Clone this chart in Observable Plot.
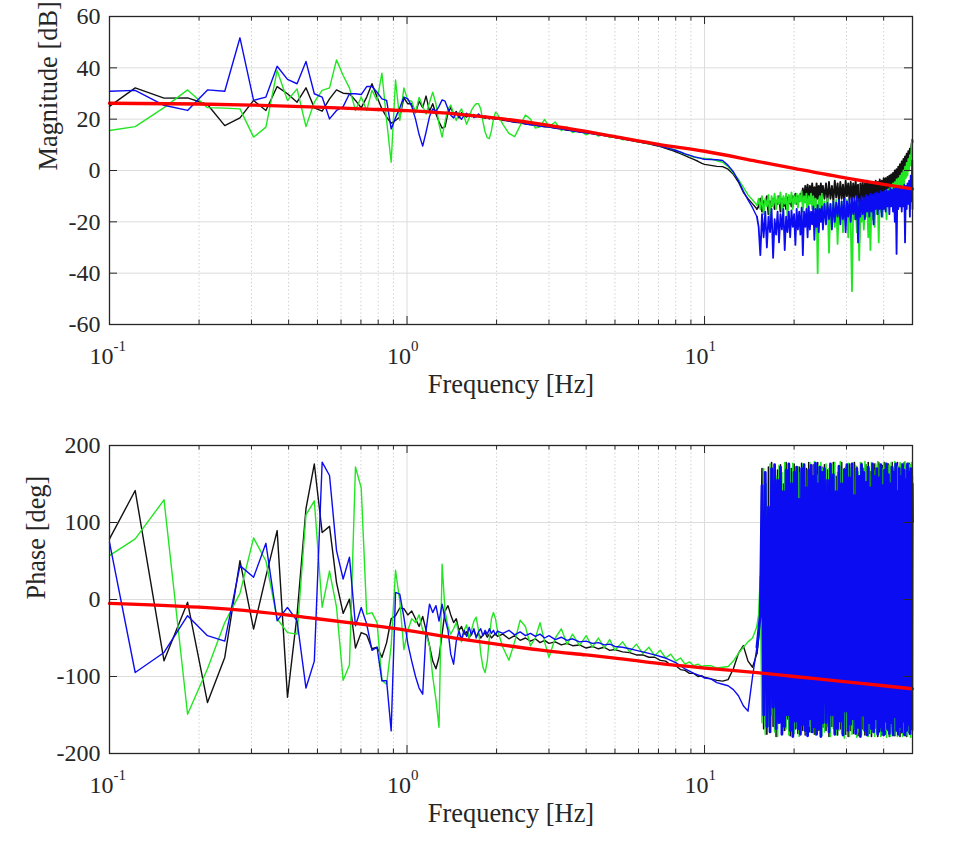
<!DOCTYPE html>
<html><head><meta charset="utf-8">
<script src="https://cdn.jsdelivr.net/npm/d3@7"></script>
<script src="https://cdn.jsdelivr.net/npm/@observablehq/plot@0.6"></script>
<style>
html,body{margin:0;padding:0;background:#fff;}
#chart svg{display:block;}
</style></head>
<body><div id="chart"></div>
<script>
// ---------- axis / tick data ----------
const xDomain = [0.1, 50];
const decades = [0.1, 1, 10];
const decadeExp = ["-1", "0", "1"];
const minorX = [0.2,0.3,0.4,0.5,0.6,0.7,0.8,0.9,2,3,4,5,6,7,8,9,20,30,40,50];
const magTicks = [-60,-40,-20,0,20,40,60];
const phaseTicks = [-200,-100,0,100,200];
const xLabel = "Frequency [Hz]";
const magLabel = "Magnitude [dB]";
const phaseLabel = "Phase [deg]";

// ---------- frequency grids (Hz) ----------
const fLow = [0.1,0.122,0.1525,0.183,0.2135,0.244,0.2745,0.305,0.3355,0.366,0.3965,0.427,0.4575,0.488,0.5185,0.549,0.5795,0.61,0.6405,0.671,0.7015,0.732,0.7625,0.793,0.8235,0.854,0.8845,0.915,0.9455,0.976,1.0065];
const fMid = [1.037,1.068,1.098,1.129,1.159,1.19,1.22,1.251,1.281,1.312,1.342,1.373,1.403,1.434,1.464,1.495,1.525,1.556,1.586,1.617,1.647,1.678,1.708,1.739,1.769,1.8,1.83,1.861,1.891,1.922,1.952,1.983,2.013,
 2.1,2.2,2.3,2.4,2.5,2.6,2.7,2.8,2.9,3.0,3.15,3.3,3.45,3.6,3.8,4.0,4.2,4.4,4.6,4.8,5.0,5.3,5.6,5.9,6.2,6.5,6.8,7.1,7.4,7.7,8.0,8.3,8.6,8.9,9.2,9.5,9.8,10.0];
const fHigh = [10.5,11,11.5,12,12.5,13,13.5,14,14.5,15,
 15.2,15.4,15.6,15.8,16,16.2,16.4,16.6,16.8,17,
 17.2,17.4,17.6,17.8,18,18.2,18.4,18.6,18.8,19,
 19.2,19.4,19.6,19.8,20,20.2,20.4,20.6,20.8,21,
 21.2,21.4,21.6,21.8,22,22.2,22.4,22.6,22.8,23,
 23.2,23.4,23.6,23.8,24,24.2,24.4,24.6,24.8,25,
 25.3,25.6,25.9,26.2,26.5,26.8,27.1,27.4,27.7,28,
 28.3,28.6,28.9,29.2,29.5,29.8,30.1,30.4,30.7,31,
 31.3,31.6,31.9,32.2,32.5,32.8,33.1,33.4,33.7,34,
 34.3,34.6,34.9,35.2,35.5,35.8,36.1,36.4,36.7,37,
 37.3,37.6,37.9,38.2,38.5,38.8,39.1,39.4,39.7,40,
 40.3,40.6,40.9,41.2,41.5,41.8,42.1,42.4,42.7,43,
 43.3,43.6,43.9,44.2,44.5,44.8,45.1,45.4,45.7,46,
 46.3,46.6,46.9,47.2,47.5,47.8,48.1,48.4,48.7,49,
 49.3,49.6,49.9,50];

// ---------- magnitude [dB] ----------
const magBlackLow = [25.0,32.2,28.2,28.3,25.7,17.5,20.5,27.3,23.4,32.7,29.9,26.6,32.2,24.4,23.1,27.9,31.4,30.1,29.9,27.3,24.4,28.6,33.8,28.6,24.0,20.8,18.4,19.5,20.8,28.3,26.0];
const magBlueLow = [30.9,31.2,25.4,23.4,31.4,30.9,51.7,27.3,28.6,40.6,35.5,33.8,42.5,29.9,28.6,20.1,23.4,24.9,29.9,29.9,29.6,32.7,32.7,30.5,27.9,27.3,16.2,20.5,24.4,28.6,27.9];
const magGreenLow = [15.6,17.1,24.5,31.4,24.5,24.3,24.0,13.0,16.9,39.0,27.3,31.8,17.1,26.6,31.2,32.2,43.1,37.0,32.2,23.4,28.6,23.4,31.2,27.3,37.9,19.5,3.2,35.3,19.5,32.2,27.3];

const magBlackMid = [26.0,22.5,27.0,24.5,29.0,23.0,26.0,22.0,19.0,16.5,17.0,22.5,24.5,22.0,23.0,20.5,
 22.5,21.5,20.8,22.0,21.0,21.8,20.9,21.5,20.7,21.1,20.3,20.9,20.1,20.5,19.9,20.4,
 20.0,19.6,19.3,18.8,18.6,18.1,17.9,17.5,17.4,17.0,17.0,16.4,16.2,15.7,15.6,15.0,14.8,14.3,14.1,13.6,13.4,12.8,12.4,11.8,11.4,10.8,10.4,9.8,9.3,8.6,8.0,7.3,6.6,5.8,5.0,4.3,3.6,2.8,2.4];
const magBlueMid = [25.0,20.0,14.0,9.5,15.0,21.0,24.0,23.0,25.0,27.5,27.0,24.0,21.5,20.5,22.5,21.0,
 20.0,21.5,22.3,21.0,21.8,20.6,21.0,22.0,21.2,20.5,21.3,20.9,20.2,20.8,20.4,19.9,
 20.1,19.8,19.3,18.9,18.8,18.2,17.8,17.7,17.2,17.1,16.9,16.5,16.1,15.9,15.4,15.1,14.6,14.4,13.9,13.6,13.3,12.9,12.3,12.0,11.4,11.0,10.5,10.0,9.5,8.9,8.4,7.8,7.2,6.5,6.0,5.4,5.0,4.6,4.4];
const magGreenMid = [27.0,22.5,28.5,25.0,22.0,26.5,30.5,26.0,18.0,13.0,19.0,24.0,25.5,22.0,19.5,22.5,
 24.0,21.0,18.0,20.5,23.5,25.0,26.0,26.0,24.0,19.0,15.0,12.8,12.4,15.5,20.0,22.7,
 22.0,18.0,14.5,13.2,17.5,21.6,20.0,16.5,17.0,19.9,17.1,18.9,15.5,17.0,14.8,15.7,13.9,15.0,13.4,14.3,12.8,13.5,12.0,12.3,11.2,11.3,10.2,10.3,9.4,9.2,8.4,8.0,7.0,6.4,5.8,5.2,4.9,4.8,4.7];

const magBlackHigh = [2.0,1.6,1.5,0.5,-1.5,-4.5,-8.5,-11.0,-13.0,-15.0,
 -14,-11,-16,-12,-13,-10,-17,-12,-14,-11,-15,-12,-13,-10,-16,-11,-14,-12,-15,-10.5,
 -13,-11,-14,-10,-12.5,-9,-13,-10,-12,-9,-11.5,-7,-12,-6,-11,-5.5,-12,-6,-10.5,-5,
 -11,-6.5,-12,-5,-11,-6,-12.5,-5,-10,-6,
 -11,-5,-12,-4.5,-11,-6,-12,-4,-10.5,-5,-12,-4.5,-11,-5.5,-12.5,-4,-10,-5,-11.5,-4.5,
 -12,-5,-11,-4,-10.5,-5.5,-28,-5,-11,-4.5,-12,-5,-10.5,-4,-11,-5,-12,-4.5,-10,-5,
 -11,-4,-10,-4.5,-9.5,-3.5,-9,-4,-8.5,-3,-8,-3,-7.5,-2.5,-7,-2,-6.5,-1.5,-6,-1,
 -5,0,-4.5,0.5,-3.5,1.5,-3,2.5,-2,3.5,-1,4.5,0,5.5,1,6.5,2.5,7.5,4,8.5,
 6,10,12,11];
const magGreenHigh = [4.5,3.8,3.2,1.5,-1.0,-3.5,-6.5,-9.5,-11.5,-13.5,
 -11,-15,-10,-17,-11,-14,-9.5,-19,-10,-14,-9,-15,-10,-13,-8.5,-16,-10,-13,-9,-18,
 -9.5,-12.5,-8.5,-15,-10,-13,-9,-14.5,-9.5,-12,-8,-16,-10,-12.5,-9,-20,-10,-13,-9,-15,
 -10,-15,-11,-14,-40,-12,-10,-17,-9,-22,
 -12,-18,-11,-32,-13,-19,-12,-22,-11.5,-28.6,-13,-19,-12,-24,-12.5,-18,-11.5,-26,-12,-20,
 -47,-14,-19,-12,-24,-12.5,-35,-13,-20,-12,-23,-13,-18,-11.5,-26,-12,-31,-13,-19,-11,
 -22,-12,-17,-10,-28,-11,-16,-9.5,-18,-9,-15,-8,-19,-7.5,-14,-7,-13,-6,-12,-5,
 -11,-4.5,-10,-3.5,-9,-3,-8,-2,-7,-1,-6,0,-5,1.5,-3,3,-2,4.5,0,6,
 2,8.5,12,11];
const magBlueHigh = [4.3,4.2,3.9,2.0,-0.5,-4.0,-8.0,-11.5,-14.5,-18.0,
 -22,-33,-17,-26,-16,-30,-18,-24,-15,-34,-19,-25,-16,-28,-17,-23,-15,-31,-18,-24,
 -16,-26,-15.5,-22,-17,-29,-15,-23,-16,-25,-14.5,-33,-16,-22,-15,-26,-14,-23,-16,-21,
 -14,-27,-15,-22,-13.5,-24,-15,-20,-14,-23,
 -13,-21,-12.5,-19,-13,-23,-12,-20,-12.5,-18,-11.5,-21,-12,-19,-11,-24,-12,-18,-11,-20,
 -10.5,-17,-11,-19,-10,-28,-11,-18,-10,-17,-10.5,-19,-9.5,-16,-10,-18,-9,-16,-9.5,-21,
 -9,-15,-8.5,-17,-9,-15,-8,-18,-8.5,-15,-8,-16,-7.5,-14,-8,-17,-7,-14,-7.5,-16,
 -7,-20,-7,-32.5,-6.5,-15,-7,-14,-6,-16,-6.5,-14,-5.5,-28,-6,-15,-5,-13,-4,-18,
 -2,-12,3.9,-15];

// ---------- phase [deg] ----------
const phBlackLow = [78.7,141.5,-79.6,-3.7,-133.8,-75.3,50.5,-38.4,30,89.5,-127,-20,118,176,87,95,22,-18,0.5,-63,-43,-46,-64,-62,-75,-56,-25,-21,-11,-12,-20];
const phBlueLow = [74.3,-94.8,-68.8,-21,-47,-54,44,28.8,73,-27.6,-10.3,-27.6,-115,-80,178.3,161,63.5,26.6,55,-34,-10.3,-32,-66,-62,-105.6,-105.6,-170.6,9.3,7.1,-23,-57.6];
const phGreenLow = [57,78.7,129.4,-149,-90,-30,8,80,50,-25,-43,-45,110,128,-10,37,-10,-105,-85,172,145,-19,-17,-30,-105,-110,-60,38,-2,-65,-40];

const phBlackMid = [-15,-25,-35,-22,-40,-60,-80,-90,-75,-45,-15,-8,-20,-30,-25,-40,
 -35,-45,-42,-50,-44,-40,-48,-44,-50,-46,-43,-49,-45,-50,-47,-44,
 -48,-45,-51,-47,-53,-50,-54,-51,-56,-53,-57,-55,-59,-57,-60,-59,-63,-61,-64,-62,-66,-65,-68,-69,-72,-72,-75,-75,-79,-80,-85,-86,-91,-92,-96,-96,-100,-99,-101];
const phBlueMid = [-80,-100,-115,-123,-40,-6,-17,-8,-28,-6,-25,-40,-71,-84,-54,-41,
 -52,-40,-48,-36,-46,-38,-50,-42,-38,-47,-40,-45,-38,-44,-40,-46,
 -41,-44,-40,-46,-42,-47,-44,-48,-45,-50,-47,-52,-49,-53,-51,-55,-54,-57,-56,-59,-58,-61,-62,-64,-66,-68,-70,-72,-74,-76,-79,-82,-86,-90,-93,-96,-98,-100,-102];
const phGreenMid = [-25,-30,-20,-40,-45,-60,-100,-130,-166,46,-15,-35,-45,-38,-30,-45,
 -55,-40,-33,-50,-40,-28,-23,-40,-70,-88,-95,-80,-50,-25,-17,-25,
 -40,-62,-79,-55,-27,-35,-60,-50,-30,-55,-75,-50,-38,-58,-45,-60,-47,-62,-50,-63,-52,-66,-55,-68,-58,-70,-62,-73,-66,-76,-71,-80,-76,-84,-81,-86,-84,-87,-86];

const phBlackHigh = [-103,-105,-106,-104,-90,-70,-60,-80,-88,-70,
 -50,-20,170,-168,155,-175,172,-150,178,-165,160,-178,168,-160,175,-172,150,-170,178,-155,
 165,-177,170,-165,176,-168,158,-174,172,-162,177,-170,165,-176,170,-158,178,-172,162,-168,
 175,-175,168,-165,178,-170,160,-177,172,-166,
 175,-170,168,-178,172,-165,178,-172,160,-176,174,-168,178,-160,170,-175,165,-178,176,-170,
 168,-174,178,-165,172,-177,160,-172,177,-168,170,-176,175,-162,178,-174,166,-178,172,-170,
 176,-167,170,-178,178,-172,165,-176,174,-168,178,-175,169,-170,176,-178,172,-165,178,-174,
 168,-177,175,-170,178,-168,172,-178,176,-173,170,-176,178,-169,174,-178,171,-172,177,-175,
 175,-170,170,-170];
const phGreenHigh = [-86,-89,-88,-87,-80,-70,-62,-55,-50,-35,
 -20,30,-160,170,-175,150,-165,176,-150,168,-172,160,-178,174,-155,165,-170,178,-168,150,
 -176,170,-162,177,-174,158,-166,172,-178,165,-158,176,-170,160,-175,168,-165,178,-172,155,
 -168,179,-176,162,-170,174,-160,178,-177,170,
 -172,176,-165,170,-178,175,-168,178,-176,165,-170,179,-174,168,-180,172,-166,177,-178,170,
 -175,178,-168,174,-179,166,-172,178,-176,172,-170,179,-168,175,-178,170,-174,178,-170,168,
 -178,176,-172,179,-166,174,-178,170,-175,178,-170,172,-179,176,-168,174,-178,178,-172,170,
 -176,179,-170,175,-178,172,-174,178,-169,176,-178,174,-172,179,-176,170,-178,177,-171,175,
 -179,178,-175,160];
const phBlueHigh = [-103,-108,-110,-112,-117,-125,-138,-145,-100,-62,
 -40,-20,148,-150,165,-165,120,-172,170,-140,175,-168,155,-160,172,-175,140,-165,168,-150,
 176,-170,150,-178,165,-158,172,-168,130,-175,170,-162,175,-170,145,-177,168,-155,174,-172,
 160,-165,177,-175,150,-168,172,-178,165,-160,
 170,-160,155,-172,176,-150,162,-175,140,-168,173,-158,150,-176,168,-145,175,-170,158,-162,
 176,-155,135,-174,170,-166,160,-178,175,-150,165,-170,152,-176,172,-160,145,-168,176,-172,
 160,-155,170,-175,158,-165,175,-170,148,-176,168,-158,176,-168,162,-174,150,-160,172,-176,
 165,-152,176,-170,140,-175,170,-165,160,-172,175,-158,168,-176,155,-170,176,-162,165,-174,
 170,-168,150,100];

// ---------- fitted model (red) ----------
const redF = [0.1,0.2,0.3,0.5,0.7,1.0,1.5,2.0,3.0,4.0,5.0,7.0,10.0,15.0,20.0,30.0,40.0,50.0];
const redMag = [26.2,25.9,25.5,24.7,24.0,23.3,21.9,20.4,17.6,15.2,13.2,10.2,7.5,3.6,0.8,-3.0,-5.4,-7.2];
const redPhase = [-5,-10,-15,-25,-32,-40,-51,-58,-67,-72,-76,-83,-89,-95,-100,-107,-112,-116];

// ---------- build rows ----------
const fAll = fLow.concat(fMid, fHigh);
function rows(low, mid, high) {
  const v = low.concat(mid, high);
  if (v.length !== fAll.length) throw new Error("length mismatch " + v.length + " vs " + fAll.length);
  return fAll.map((f, i) => ({f, v: v[i]}));
}
function redRows(vals) { return redF.map((f, i) => ({f, v: vals[i]})); }
const denseStart = fLow.length + fMid.length + 10;

const FONT = "'Liberation Serif','Times New Roman',serif";
const TXT = "#262626";
const W = 964, ML = 109, MR = 52, MT = 16, IH = 308;
const IW = W - ML - MR;
const C = {black: "#111111", green: "#22e622", blue: "#0c0cf2", red: "#ff0000"};

function split(data, color, w1, w2) {
  return [
    Plot.line(data.slice(0, denseStart), {x: "f", y: "v", stroke: color, strokeWidth: w1}),
    Plot.line(data.slice(denseStart - 1), {x: "f", y: "v", stroke: color, strokeWidth: w2})
  ];
}

function panel({height, yDomain, yTicks, yLabel, labelDx, black, green, blue, red, dense}) {
  const lw = 1.4;
  return Plot.plot({
    width: W, height,
    marginLeft: ML, marginRight: MR, marginTop: MT, marginBottom: height - MT - IH,
    x: {type: "log", domain: xDomain, axis: null},
    y: {domain: yDomain, axis: null},
    style: {background: "#fff", fontFamily: FONT, overflow: "visible"},
    marks: [
      Plot.ruleX(minorX, {stroke: "#c9c9c9", strokeDasharray: "1.2,2.6", strokeWidth: 1}),
      Plot.ruleX(decades, {stroke: "#dddddd", strokeWidth: 1}),
      Plot.ruleY(yTicks, {stroke: "#dddddd", strokeWidth: 1}),
      ...split(black, C.black, lw, dense.black),
      ...split(green, C.green, lw, dense.green),
      ...split(blue, C.blue, lw, dense.blue),
      Plot.line(red, {x: "f", y: "v", stroke: C.red, strokeWidth: 3.3, curve: "monotone-x"}),
      Plot.ruleX(decades, {insetTop: IH - 8, stroke: TXT}),
      Plot.ruleX(decades, {insetBottom: IH - 8, stroke: TXT}),
      Plot.ruleX(minorX, {insetTop: IH - 4.5, stroke: TXT}),
      Plot.ruleX(minorX, {insetBottom: IH - 4.5, stroke: TXT}),
      Plot.ruleY(yTicks, {insetRight: IW - 8, stroke: TXT}),
      Plot.ruleY(yTicks, {insetLeft: IW - 8, stroke: TXT}),
      Plot.frame({stroke: TXT, strokeWidth: 1.3}),
      Plot.text(yTicks, {y: d => d, frameAnchor: "left", dx: -9, textAnchor: "end",
        text: d => String(d), fontSize: 24, fontFamily: FONT, fill: TXT}),
      Plot.text(decades, {x: d => d, frameAnchor: "bottom", lineAnchor: "bottom", dy: 39, dx: 4,
        textAnchor: "end", text: () => "10", fontSize: 24, fontFamily: FONT, fill: TXT}),
      Plot.text(decades, {x: d => d, frameAnchor: "bottom", lineAnchor: "bottom", dy: 26, dx: 4,
        textAnchor: "start", text: (d, i) => decadeExp[i], fontSize: 15, fontFamily: FONT, fill: TXT}),
      Plot.text([xLabel], {frameAnchor: "bottom", lineAnchor: "bottom", dy: 68,
        text: d => d, fontSize: 26.4, fontFamily: FONT, fill: TXT}),
      Plot.text([yLabel], {frameAnchor: "left", rotate: -90, dx: labelDx,
        text: d => d, fontSize: 26.4, fontFamily: FONT, fill: TXT})
    ]
  });
}

const root = document.getElementById("chart");
root.appendChild(panel({
  height: 429, yDomain: [-60, 60], yTicks: magTicks, yLabel: magLabel, labelDx: -61,
  black: rows(magBlackLow, magBlackMid, magBlackHigh),
  green: rows(magGreenLow, magGreenMid, magGreenHigh),
  blue: rows(magBlueLow, magBlueMid, magBlueHigh),
  red: redRows(redMag), dense: {black: 1.9, green: 1.8, blue: 1.8}
}));
root.appendChild(panel({
  height: 420, yDomain: [-200, 200], yTicks: phaseTicks, yLabel: phaseLabel, labelDx: -73,
  black: rows(phBlackLow, phBlackMid, phBlackHigh),
  green: rows(phGreenLow, phGreenMid, phGreenHigh),
  blue: rows(phBlueLow, phBlueMid, phBlueHigh),
  red: redRows(redPhase), dense: {black: 1.6, green: 1.6, blue: 2.8}
}));
</script>
</body></html>
